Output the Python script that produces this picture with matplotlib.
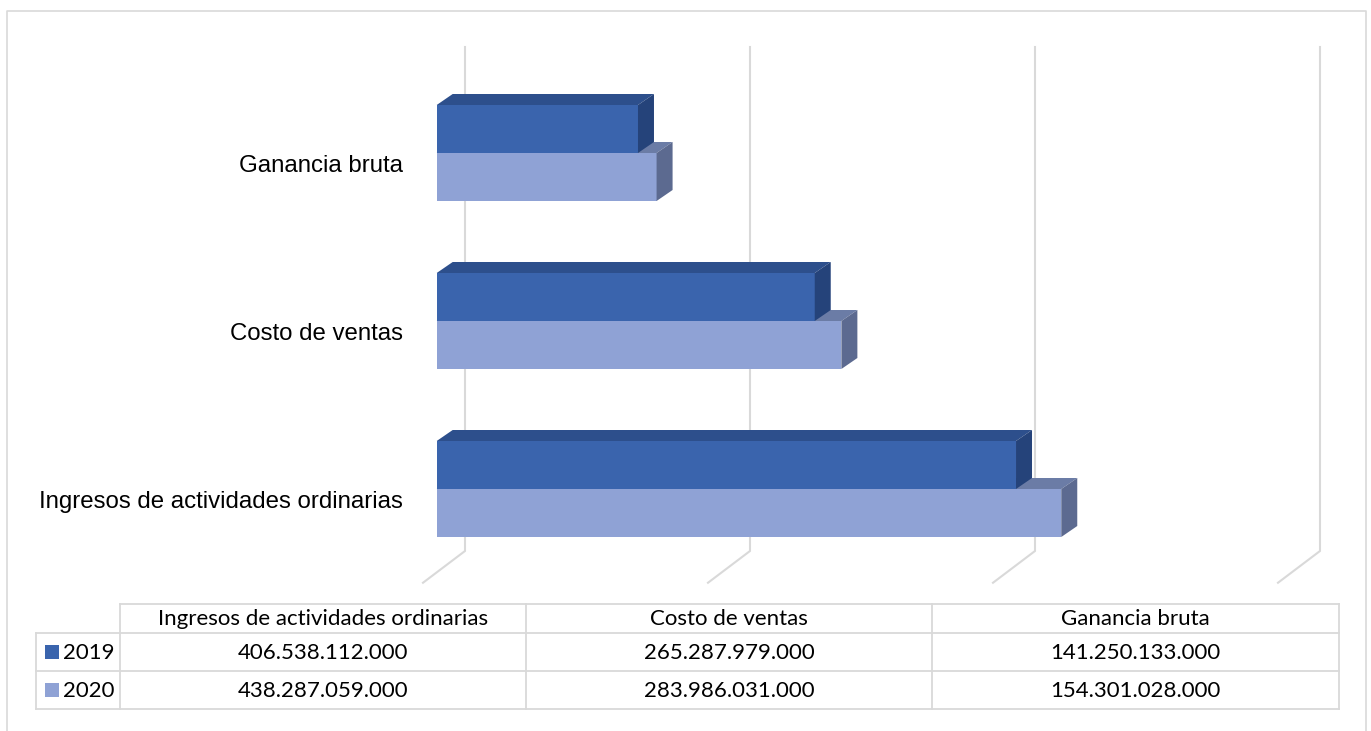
import matplotlib
matplotlib.use('Agg')
import matplotlib.pyplot as plt
from matplotlib.patches import Polygon, Rectangle

# data (values in pesos)
categories = ['Ingresos de actividades ordinarias', 'Costo de ventas', 'Ganancia bruta']
years = ['2019', '2020']
v2019 = [406538112000, 265287979000, 141250133000]
v2020 = [438287059000, 283986031000, 154301028000]
grid_ticks = [0, 200, 400, 600]   # in billions

colors = {'2019': ('#3A64AD', '#2D4F8C', '#25437A'),
          '2020': ('#8FA2D5', '#6B7CA6', '#5C6A90')}

W, H = 1371, 731
fig = plt.figure(figsize=(W / 100, H / 100), dpi=100)

# pixel overlay for border and table
pax = fig.add_axes([0, 0, 1, 1])
pax.set_xlim(0, W)
pax.set_ylim(H, 0)
pax.axis('off')

# data axes: x in billions, y in category units
px_per_b = 1.425
x0 = 436.7
ax = fig.add_axes([0, 0, 1, 1])
ax.set_xlim(-x0 / px_per_b, (W - x0) / px_per_b)
ax.set_ylim((489 - H) / 168, 489 / 168)
ax.axis('off')
ax.patch.set_alpha(0)

grid_c = '#D9D9D9'
back_dx = 28.3 / px_per_b
front_dx = -13.7 / px_per_b
y_top, y_bot, y_front = 2.631, -0.369, -0.558
for t in grid_ticks:
    ax.plot([t + back_dx, t + back_dx, t + front_dx], [y_top, y_bot, y_front],
            color=grid_c, lw=1.5, solid_joinstyle='miter', zorder=1)

h = 48 / 168
ddx = 16 / px_per_b
ddy = 11 / 168


def bar3d(val, ybase, cols):
    front, top, side = cols
    x1 = val / 1e9
    ax.add_patch(Polygon([(0, ybase), (x1, ybase), (x1, ybase + h), (0, ybase + h)],
                         closed=True, fc=front, ec='none', zorder=3))
    ax.add_patch(Polygon([(0, ybase + h), (x1, ybase + h), (x1 + ddx, ybase + h + ddy),
                          (ddx, ybase + h + ddy)], closed=True, fc=top, ec='none', zorder=3))
    ax.add_patch(Polygon([(x1, ybase), (x1 + ddx, ybase + ddy), (x1 + ddx, ybase + h + ddy),
                          (x1, ybase + h)], closed=True, fc=side, ec='none', zorder=3))


for i, cat in enumerate(categories):
    bar3d(v2020[i], i - h, colors['2020'])
    bar3d(v2019[i], i, colors['2019'])
    ax.text(-23.6, i - 0.08, cat, ha='right', va='center',
            fontsize=17.3, family='Liberation Sans', color='#000000')

# outer border
pax.plot([7, 7, 1366, 1366], [H + 5, 11, 11, H + 5], color=grid_c, lw=1.2)

# data table
col_x = [36, 120, 526, 932, 1339]
row_y = [604, 633, 671, 709]
lc = '#D9D9D9'
lw = 1.3
pax.plot([120, 1339], [604, 604], color=lc, lw=lw)
for y in row_y[1:]:
    pax.plot([36, 1339], [y, y], color=lc, lw=lw)
pax.plot([36, 36], [633, 709], color=lc, lw=lw)
for x in col_x[1:]:
    pax.plot([x, x], [604, 709], color=lc, lw=lw)

tfont = dict(family='Lato', fontsize=16, color='#000000')
for j, cat in enumerate(categories):
    cx = (col_x[j + 1] + col_x[j + 2]) / 2
    pax.text(cx, 619, cat, ha='center', va='center', **tfont)
    for r, vals in enumerate([v2019, v2020]):
        s = f'{vals[j]:,}'.replace(',', '.')
        pax.text(cx, (row_y[r + 1] + row_y[r + 2]) / 2 + 1, s, ha='center', va='center', **tfont)

for r, yr in enumerate(years):
    yc = (row_y[r + 1] + row_y[r + 2]) / 2
    pax.add_patch(Rectangle((45, yc - 7), 14, 14, fc=colors[yr][0], ec='none'))
    pax.text(63, yc + 1, yr, ha='left', va='center', **tfont)

fig.savefig('out.png', dpi=100)
